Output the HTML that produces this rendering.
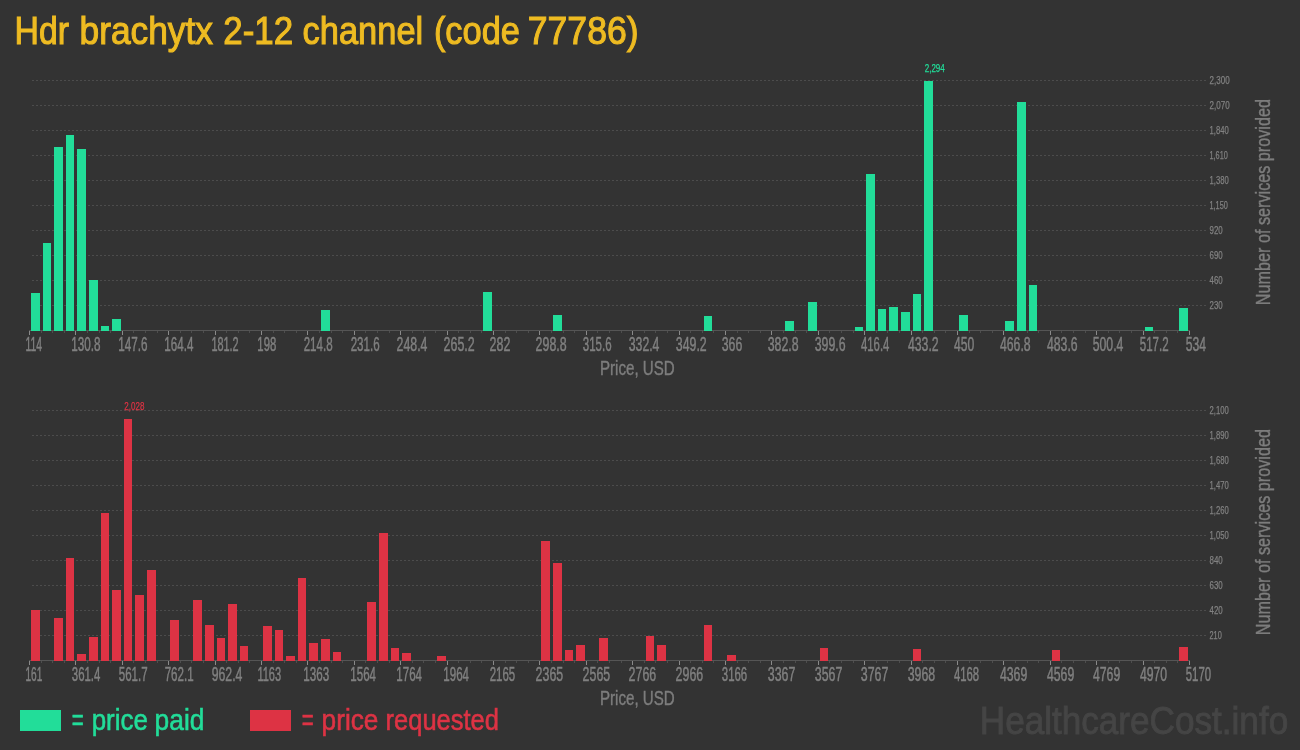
<!DOCTYPE html>
<html lang="en"><head><meta charset="utf-8"><title>Hdr brachytx 2-12 channel (code 77786)</title>
<style>
html,body{margin:0;padding:0;background:#333333;}
body{width:1300px;height:750px;overflow:hidden;}
svg{display:block;font-family:"Liberation Sans",sans-serif;}
.grid{stroke:#4c4c4c;stroke-width:1;stroke-dasharray:2 2;}
.axis{stroke:#555;stroke-width:1;}
.tick{stroke:#8a8a8a;stroke-width:1;}
.mtick{stroke:#4e4e4e;stroke-width:1;}
.xl{font-size:19.3px;fill:#808080;stroke:#808080;stroke-width:0.45px;}
.yl{font-size:11.7px;fill:#828282;stroke:#828282;stroke-width:0.25px;}
.al{font-size:19.3px;fill:#7d7d7d;stroke:#7d7d7d;stroke-width:0.4px;}
.title{font-size:39.3px;fill:#eebb22;stroke:#eebb22;stroke-width:1.1px;}
.lg{font-size:30px;stroke-width:0.6px;}
.wm{font-size:39.6px;fill:#454545;stroke:#454545;stroke-width:0.9px;}
</style></head>
<body>
<svg width="1300" height="750" viewBox="0 0 1300 750">
<rect width="1300" height="750" fill="#333333"/>
<text y="44.4" class="title"><tspan x="14.53" textLength="54.47" lengthAdjust="spacingAndGlyphs">Hdr</tspan> <tspan x="79.49" textLength="133.53" lengthAdjust="spacingAndGlyphs">brachytx</tspan> <tspan x="223.3" textLength="69.91" lengthAdjust="spacingAndGlyphs">2-12</tspan> <tspan x="302.6" textLength="120.62" lengthAdjust="spacingAndGlyphs">channel</tspan> <tspan x="433.92" textLength="86.06" lengthAdjust="spacingAndGlyphs">(code</tspan> <tspan x="527.73" textLength="110.92" lengthAdjust="spacingAndGlyphs">77786)</tspan></text>
<line x1="32" x2="1206" y1="305.5" y2="305.5" class="grid"/>
<line x1="32" x2="1206" y1="280.5" y2="280.5" class="grid"/>
<line x1="32" x2="1206" y1="255.5" y2="255.5" class="grid"/>
<line x1="32" x2="1206" y1="230.5" y2="230.5" class="grid"/>
<line x1="32" x2="1206" y1="205.5" y2="205.5" class="grid"/>
<line x1="32" x2="1206" y1="180.5" y2="180.5" class="grid"/>
<line x1="32" x2="1206" y1="155.5" y2="155.5" class="grid"/>
<line x1="32" x2="1206" y1="130.5" y2="130.5" class="grid"/>
<line x1="32" x2="1206" y1="105.5" y2="105.5" class="grid"/>
<line x1="32" x2="1206" y1="80.5" y2="80.5" class="grid"/>
<line x1="29.0" x2="1190.0" y1="330.5" y2="330.5" class="axis"/>
<line x1="29.5" x2="29.5" y1="331" y2="335" class="tick"/>
<line x1="41.5" x2="41.5" y1="331" y2="333" class="mtick"/>
<line x1="52.5" x2="52.5" y1="331" y2="333" class="mtick"/>
<line x1="64.5" x2="64.5" y1="331" y2="333" class="mtick"/>
<line x1="75.5" x2="75.5" y1="331" y2="335" class="tick"/>
<line x1="87.5" x2="87.5" y1="331" y2="333" class="mtick"/>
<line x1="99.5" x2="99.5" y1="331" y2="333" class="mtick"/>
<line x1="110.5" x2="110.5" y1="331" y2="333" class="mtick"/>
<line x1="122.5" x2="122.5" y1="331" y2="335" class="tick"/>
<line x1="133.5" x2="133.5" y1="331" y2="333" class="mtick"/>
<line x1="145.5" x2="145.5" y1="331" y2="333" class="mtick"/>
<line x1="157.5" x2="157.5" y1="331" y2="333" class="mtick"/>
<line x1="168.5" x2="168.5" y1="331" y2="335" class="tick"/>
<line x1="180.5" x2="180.5" y1="331" y2="333" class="mtick"/>
<line x1="191.5" x2="191.5" y1="331" y2="333" class="mtick"/>
<line x1="203.5" x2="203.5" y1="331" y2="333" class="mtick"/>
<line x1="215.5" x2="215.5" y1="331" y2="335" class="tick"/>
<line x1="226.5" x2="226.5" y1="331" y2="333" class="mtick"/>
<line x1="238.5" x2="238.5" y1="331" y2="333" class="mtick"/>
<line x1="249.5" x2="249.5" y1="331" y2="333" class="mtick"/>
<line x1="261.5" x2="261.5" y1="331" y2="335" class="tick"/>
<line x1="273.5" x2="273.5" y1="331" y2="333" class="mtick"/>
<line x1="284.5" x2="284.5" y1="331" y2="333" class="mtick"/>
<line x1="296.5" x2="296.5" y1="331" y2="333" class="mtick"/>
<line x1="307.5" x2="307.5" y1="331" y2="335" class="tick"/>
<line x1="319.5" x2="319.5" y1="331" y2="333" class="mtick"/>
<line x1="331.5" x2="331.5" y1="331" y2="333" class="mtick"/>
<line x1="342.5" x2="342.5" y1="331" y2="333" class="mtick"/>
<line x1="354.5" x2="354.5" y1="331" y2="335" class="tick"/>
<line x1="365.5" x2="365.5" y1="331" y2="333" class="mtick"/>
<line x1="377.5" x2="377.5" y1="331" y2="333" class="mtick"/>
<line x1="389.5" x2="389.5" y1="331" y2="333" class="mtick"/>
<line x1="400.5" x2="400.5" y1="331" y2="335" class="tick"/>
<line x1="412.5" x2="412.5" y1="331" y2="333" class="mtick"/>
<line x1="423.5" x2="423.5" y1="331" y2="333" class="mtick"/>
<line x1="435.5" x2="435.5" y1="331" y2="333" class="mtick"/>
<line x1="447.5" x2="447.5" y1="331" y2="335" class="tick"/>
<line x1="458.5" x2="458.5" y1="331" y2="333" class="mtick"/>
<line x1="470.5" x2="470.5" y1="331" y2="333" class="mtick"/>
<line x1="481.5" x2="481.5" y1="331" y2="333" class="mtick"/>
<line x1="493.5" x2="493.5" y1="331" y2="335" class="tick"/>
<line x1="505.5" x2="505.5" y1="331" y2="333" class="mtick"/>
<line x1="516.5" x2="516.5" y1="331" y2="333" class="mtick"/>
<line x1="528.5" x2="528.5" y1="331" y2="333" class="mtick"/>
<line x1="539.5" x2="539.5" y1="331" y2="335" class="tick"/>
<line x1="551.5" x2="551.5" y1="331" y2="333" class="mtick"/>
<line x1="563.5" x2="563.5" y1="331" y2="333" class="mtick"/>
<line x1="574.5" x2="574.5" y1="331" y2="333" class="mtick"/>
<line x1="586.5" x2="586.5" y1="331" y2="335" class="tick"/>
<line x1="597.5" x2="597.5" y1="331" y2="333" class="mtick"/>
<line x1="609.5" x2="609.5" y1="331" y2="333" class="mtick"/>
<line x1="621.5" x2="621.5" y1="331" y2="333" class="mtick"/>
<line x1="632.5" x2="632.5" y1="331" y2="335" class="tick"/>
<line x1="644.5" x2="644.5" y1="331" y2="333" class="mtick"/>
<line x1="655.5" x2="655.5" y1="331" y2="333" class="mtick"/>
<line x1="667.5" x2="667.5" y1="331" y2="333" class="mtick"/>
<line x1="679.5" x2="679.5" y1="331" y2="335" class="tick"/>
<line x1="690.5" x2="690.5" y1="331" y2="333" class="mtick"/>
<line x1="702.5" x2="702.5" y1="331" y2="333" class="mtick"/>
<line x1="713.5" x2="713.5" y1="331" y2="333" class="mtick"/>
<line x1="725.5" x2="725.5" y1="331" y2="335" class="tick"/>
<line x1="737.5" x2="737.5" y1="331" y2="333" class="mtick"/>
<line x1="748.5" x2="748.5" y1="331" y2="333" class="mtick"/>
<line x1="760.5" x2="760.5" y1="331" y2="333" class="mtick"/>
<line x1="771.5" x2="771.5" y1="331" y2="335" class="tick"/>
<line x1="783.5" x2="783.5" y1="331" y2="333" class="mtick"/>
<line x1="795.5" x2="795.5" y1="331" y2="333" class="mtick"/>
<line x1="806.5" x2="806.5" y1="331" y2="333" class="mtick"/>
<line x1="818.5" x2="818.5" y1="331" y2="335" class="tick"/>
<line x1="829.5" x2="829.5" y1="331" y2="333" class="mtick"/>
<line x1="841.5" x2="841.5" y1="331" y2="333" class="mtick"/>
<line x1="853.5" x2="853.5" y1="331" y2="333" class="mtick"/>
<line x1="864.5" x2="864.5" y1="331" y2="335" class="tick"/>
<line x1="876.5" x2="876.5" y1="331" y2="333" class="mtick"/>
<line x1="887.5" x2="887.5" y1="331" y2="333" class="mtick"/>
<line x1="899.5" x2="899.5" y1="331" y2="333" class="mtick"/>
<line x1="911.5" x2="911.5" y1="331" y2="335" class="tick"/>
<line x1="922.5" x2="922.5" y1="331" y2="333" class="mtick"/>
<line x1="934.5" x2="934.5" y1="331" y2="333" class="mtick"/>
<line x1="945.5" x2="945.5" y1="331" y2="333" class="mtick"/>
<line x1="957.5" x2="957.5" y1="331" y2="335" class="tick"/>
<line x1="969.5" x2="969.5" y1="331" y2="333" class="mtick"/>
<line x1="980.5" x2="980.5" y1="331" y2="333" class="mtick"/>
<line x1="992.5" x2="992.5" y1="331" y2="333" class="mtick"/>
<line x1="1003.5" x2="1003.5" y1="331" y2="335" class="tick"/>
<line x1="1015.5" x2="1015.5" y1="331" y2="333" class="mtick"/>
<line x1="1027.5" x2="1027.5" y1="331" y2="333" class="mtick"/>
<line x1="1038.5" x2="1038.5" y1="331" y2="333" class="mtick"/>
<line x1="1050.5" x2="1050.5" y1="331" y2="335" class="tick"/>
<line x1="1061.5" x2="1061.5" y1="331" y2="333" class="mtick"/>
<line x1="1073.5" x2="1073.5" y1="331" y2="333" class="mtick"/>
<line x1="1085.5" x2="1085.5" y1="331" y2="333" class="mtick"/>
<line x1="1096.5" x2="1096.5" y1="331" y2="335" class="tick"/>
<line x1="1108.5" x2="1108.5" y1="331" y2="333" class="mtick"/>
<line x1="1119.5" x2="1119.5" y1="331" y2="333" class="mtick"/>
<line x1="1131.5" x2="1131.5" y1="331" y2="333" class="mtick"/>
<line x1="1143.5" x2="1143.5" y1="331" y2="335" class="tick"/>
<line x1="1154.5" x2="1154.5" y1="331" y2="333" class="mtick"/>
<line x1="1166.5" x2="1166.5" y1="331" y2="333" class="mtick"/>
<line x1="1177.5" x2="1177.5" y1="331" y2="333" class="mtick"/>
<line x1="1189.5" x2="1189.5" y1="331" y2="335" class="tick"/>
<g fill="#22dd99" shape-rendering="crispEdges">
<rect x="31" y="293" width="9" height="38"/>
<rect x="43" y="243" width="8" height="88"/>
<rect x="54" y="147" width="9" height="184"/>
<rect x="66" y="135" width="8" height="196"/>
<rect x="77" y="149" width="9" height="182"/>
<rect x="89" y="280" width="9" height="51"/>
<rect x="101" y="326" width="8" height="5"/>
<rect x="112" y="319" width="9" height="12"/>
<rect x="321" y="310" width="9" height="21"/>
<rect x="483" y="292" width="9" height="39"/>
<rect x="553" y="315" width="9" height="16"/>
<rect x="704" y="316" width="8" height="15"/>
<rect x="785" y="321" width="9" height="10"/>
<rect x="808" y="302" width="9" height="29"/>
<rect x="855" y="327" width="8" height="4"/>
<rect x="866" y="174" width="9" height="157"/>
<rect x="878" y="309" width="8" height="22"/>
<rect x="889" y="307" width="9" height="24"/>
<rect x="901" y="312" width="9" height="19"/>
<rect x="913" y="294" width="8" height="37"/>
<rect x="924" y="81" width="9" height="250"/>
<rect x="959" y="315" width="9" height="16"/>
<rect x="1005" y="321" width="9" height="10"/>
<rect x="1017" y="102" width="9" height="229"/>
<rect x="1029" y="285" width="8" height="46"/>
<rect x="1145" y="327" width="8" height="4"/>
<rect x="1179" y="308" width="9" height="23"/>
</g>
<text x="25.43" y="351.35" class="xl" textLength="16.65" lengthAdjust="spacingAndGlyphs">114</text>
<text x="71.34" y="351.35" class="xl" textLength="29.25" lengthAdjust="spacingAndGlyphs">130.8</text>
<text x="118.34" y="351.35" class="xl" textLength="29.25" lengthAdjust="spacingAndGlyphs">147.6</text>
<text x="164.34" y="351.35" class="xl" textLength="29.08" lengthAdjust="spacingAndGlyphs">164.4</text>
<text x="211.4" y="351.35" class="xl" textLength="27.23" lengthAdjust="spacingAndGlyphs">181.2</text>
<text x="257.36" y="351.35" class="xl" textLength="18.9" lengthAdjust="spacingAndGlyphs">198</text>
<text x="303.65" y="351.35" class="xl" textLength="28.93" lengthAdjust="spacingAndGlyphs">214.8</text>
<text x="350.65" y="351.35" class="xl" textLength="28.93" lengthAdjust="spacingAndGlyphs">231.6</text>
<text x="396.61" y="351.35" class="xl" textLength="30.83" lengthAdjust="spacingAndGlyphs">248.4</text>
<text x="443.6" y="351.35" class="xl" textLength="31.1" lengthAdjust="spacingAndGlyphs">265.2</text>
<text x="489.6" y="351.35" class="xl" textLength="20.8" lengthAdjust="spacingAndGlyphs">282</text>
<text x="535.61" y="351.35" class="xl" textLength="31.01" lengthAdjust="spacingAndGlyphs">298.8</text>
<text x="582.79" y="351.35" class="xl" textLength="28.79" lengthAdjust="spacingAndGlyphs">315.6</text>
<text x="628.76" y="351.35" class="xl" textLength="30.68" lengthAdjust="spacingAndGlyphs">332.4</text>
<text x="675.76" y="351.35" class="xl" textLength="30.94" lengthAdjust="spacingAndGlyphs">349.2</text>
<text x="721.76" y="351.35" class="xl" textLength="20.55" lengthAdjust="spacingAndGlyphs">366</text>
<text x="767.76" y="351.35" class="xl" textLength="30.85" lengthAdjust="spacingAndGlyphs">382.8</text>
<text x="814.76" y="351.35" class="xl" textLength="30.85" lengthAdjust="spacingAndGlyphs">399.6</text>
<text x="860.98" y="351.35" class="xl" textLength="28.43" lengthAdjust="spacingAndGlyphs">416.4</text>
<text x="907.95" y="351.35" class="xl" textLength="30.74" lengthAdjust="spacingAndGlyphs">433.2</text>
<text x="953.96" y="351.35" class="xl" textLength="20.29" lengthAdjust="spacingAndGlyphs">450</text>
<text x="999.96" y="351.35" class="xl" textLength="30.65" lengthAdjust="spacingAndGlyphs">466.8</text>
<text x="1046.96" y="351.35" class="xl" textLength="30.65" lengthAdjust="spacingAndGlyphs">483.6</text>
<text x="1092.73" y="351.35" class="xl" textLength="30.7" lengthAdjust="spacingAndGlyphs">500.4</text>
<text x="1139.76" y="351.35" class="xl" textLength="28.89" lengthAdjust="spacingAndGlyphs">517.2</text>
<text x="1185.74" y="351.35" class="xl" textLength="20.4" lengthAdjust="spacingAndGlyphs">534</text>
<text x="1209.5" y="308.8" class="yl" textLength="13.2" lengthAdjust="spacingAndGlyphs">230</text>
<text x="1209.5" y="283.8" class="yl" textLength="13.2" lengthAdjust="spacingAndGlyphs">460</text>
<text x="1209.5" y="258.8" class="yl" textLength="13.2" lengthAdjust="spacingAndGlyphs">690</text>
<text x="1209.5" y="233.8" class="yl" textLength="13.2" lengthAdjust="spacingAndGlyphs">920</text>
<text x="1209.5" y="208.8" class="yl" textLength="18.3" lengthAdjust="spacingAndGlyphs">1,150</text>
<text x="1209.5" y="183.8" class="yl" textLength="19.2" lengthAdjust="spacingAndGlyphs">1,380</text>
<text x="1209.5" y="158.8" class="yl" textLength="18.3" lengthAdjust="spacingAndGlyphs">1,610</text>
<text x="1209.5" y="133.8" class="yl" textLength="19.2" lengthAdjust="spacingAndGlyphs">1,840</text>
<text x="1209.5" y="108.8" class="yl" textLength="20.1" lengthAdjust="spacingAndGlyphs">2,070</text>
<text x="1209.5" y="83.8" class="yl" textLength="20.1" lengthAdjust="spacingAndGlyphs">2,300</text>
<text x="924.7" y="71.8" class="yl" style="fill:#22dd99;stroke:#22dd99" textLength="20.1" lengthAdjust="spacingAndGlyphs">2,294</text>
<text x="599.96" y="374.6" class="al" textLength="74.76" lengthAdjust="spacingAndGlyphs">Price, USD</text>
<text transform="translate(1270 305.18) rotate(-90)" class="al" textLength="206.17" lengthAdjust="spacingAndGlyphs">Number of services provided</text>
<line x1="32" x2="1206" y1="635.5" y2="635.5" class="grid"/>
<line x1="32" x2="1206" y1="610.5" y2="610.5" class="grid"/>
<line x1="32" x2="1206" y1="585.5" y2="585.5" class="grid"/>
<line x1="32" x2="1206" y1="560.5" y2="560.5" class="grid"/>
<line x1="32" x2="1206" y1="535.5" y2="535.5" class="grid"/>
<line x1="32" x2="1206" y1="510.5" y2="510.5" class="grid"/>
<line x1="32" x2="1206" y1="485.5" y2="485.5" class="grid"/>
<line x1="32" x2="1206" y1="460.5" y2="460.5" class="grid"/>
<line x1="32" x2="1206" y1="435.5" y2="435.5" class="grid"/>
<line x1="32" x2="1206" y1="410.5" y2="410.5" class="grid"/>
<line x1="29.0" x2="1190.0" y1="660.5" y2="660.5" class="axis"/>
<line x1="29.5" x2="29.5" y1="661" y2="665" class="tick"/>
<line x1="41.5" x2="41.5" y1="661" y2="663" class="mtick"/>
<line x1="52.5" x2="52.5" y1="661" y2="663" class="mtick"/>
<line x1="64.5" x2="64.5" y1="661" y2="663" class="mtick"/>
<line x1="75.5" x2="75.5" y1="661" y2="665" class="tick"/>
<line x1="87.5" x2="87.5" y1="661" y2="663" class="mtick"/>
<line x1="99.5" x2="99.5" y1="661" y2="663" class="mtick"/>
<line x1="110.5" x2="110.5" y1="661" y2="663" class="mtick"/>
<line x1="122.5" x2="122.5" y1="661" y2="665" class="tick"/>
<line x1="133.5" x2="133.5" y1="661" y2="663" class="mtick"/>
<line x1="145.5" x2="145.5" y1="661" y2="663" class="mtick"/>
<line x1="157.5" x2="157.5" y1="661" y2="663" class="mtick"/>
<line x1="168.5" x2="168.5" y1="661" y2="665" class="tick"/>
<line x1="180.5" x2="180.5" y1="661" y2="663" class="mtick"/>
<line x1="191.5" x2="191.5" y1="661" y2="663" class="mtick"/>
<line x1="203.5" x2="203.5" y1="661" y2="663" class="mtick"/>
<line x1="215.5" x2="215.5" y1="661" y2="665" class="tick"/>
<line x1="226.5" x2="226.5" y1="661" y2="663" class="mtick"/>
<line x1="238.5" x2="238.5" y1="661" y2="663" class="mtick"/>
<line x1="249.5" x2="249.5" y1="661" y2="663" class="mtick"/>
<line x1="261.5" x2="261.5" y1="661" y2="665" class="tick"/>
<line x1="273.5" x2="273.5" y1="661" y2="663" class="mtick"/>
<line x1="284.5" x2="284.5" y1="661" y2="663" class="mtick"/>
<line x1="296.5" x2="296.5" y1="661" y2="663" class="mtick"/>
<line x1="307.5" x2="307.5" y1="661" y2="665" class="tick"/>
<line x1="319.5" x2="319.5" y1="661" y2="663" class="mtick"/>
<line x1="331.5" x2="331.5" y1="661" y2="663" class="mtick"/>
<line x1="342.5" x2="342.5" y1="661" y2="663" class="mtick"/>
<line x1="354.5" x2="354.5" y1="661" y2="665" class="tick"/>
<line x1="365.5" x2="365.5" y1="661" y2="663" class="mtick"/>
<line x1="377.5" x2="377.5" y1="661" y2="663" class="mtick"/>
<line x1="389.5" x2="389.5" y1="661" y2="663" class="mtick"/>
<line x1="400.5" x2="400.5" y1="661" y2="665" class="tick"/>
<line x1="412.5" x2="412.5" y1="661" y2="663" class="mtick"/>
<line x1="423.5" x2="423.5" y1="661" y2="663" class="mtick"/>
<line x1="435.5" x2="435.5" y1="661" y2="663" class="mtick"/>
<line x1="447.5" x2="447.5" y1="661" y2="665" class="tick"/>
<line x1="458.5" x2="458.5" y1="661" y2="663" class="mtick"/>
<line x1="470.5" x2="470.5" y1="661" y2="663" class="mtick"/>
<line x1="481.5" x2="481.5" y1="661" y2="663" class="mtick"/>
<line x1="493.5" x2="493.5" y1="661" y2="665" class="tick"/>
<line x1="505.5" x2="505.5" y1="661" y2="663" class="mtick"/>
<line x1="516.5" x2="516.5" y1="661" y2="663" class="mtick"/>
<line x1="528.5" x2="528.5" y1="661" y2="663" class="mtick"/>
<line x1="539.5" x2="539.5" y1="661" y2="665" class="tick"/>
<line x1="551.5" x2="551.5" y1="661" y2="663" class="mtick"/>
<line x1="563.5" x2="563.5" y1="661" y2="663" class="mtick"/>
<line x1="574.5" x2="574.5" y1="661" y2="663" class="mtick"/>
<line x1="586.5" x2="586.5" y1="661" y2="665" class="tick"/>
<line x1="597.5" x2="597.5" y1="661" y2="663" class="mtick"/>
<line x1="609.5" x2="609.5" y1="661" y2="663" class="mtick"/>
<line x1="621.5" x2="621.5" y1="661" y2="663" class="mtick"/>
<line x1="632.5" x2="632.5" y1="661" y2="665" class="tick"/>
<line x1="644.5" x2="644.5" y1="661" y2="663" class="mtick"/>
<line x1="655.5" x2="655.5" y1="661" y2="663" class="mtick"/>
<line x1="667.5" x2="667.5" y1="661" y2="663" class="mtick"/>
<line x1="679.5" x2="679.5" y1="661" y2="665" class="tick"/>
<line x1="690.5" x2="690.5" y1="661" y2="663" class="mtick"/>
<line x1="702.5" x2="702.5" y1="661" y2="663" class="mtick"/>
<line x1="713.5" x2="713.5" y1="661" y2="663" class="mtick"/>
<line x1="725.5" x2="725.5" y1="661" y2="665" class="tick"/>
<line x1="737.5" x2="737.5" y1="661" y2="663" class="mtick"/>
<line x1="748.5" x2="748.5" y1="661" y2="663" class="mtick"/>
<line x1="760.5" x2="760.5" y1="661" y2="663" class="mtick"/>
<line x1="771.5" x2="771.5" y1="661" y2="665" class="tick"/>
<line x1="783.5" x2="783.5" y1="661" y2="663" class="mtick"/>
<line x1="795.5" x2="795.5" y1="661" y2="663" class="mtick"/>
<line x1="806.5" x2="806.5" y1="661" y2="663" class="mtick"/>
<line x1="818.5" x2="818.5" y1="661" y2="665" class="tick"/>
<line x1="829.5" x2="829.5" y1="661" y2="663" class="mtick"/>
<line x1="841.5" x2="841.5" y1="661" y2="663" class="mtick"/>
<line x1="853.5" x2="853.5" y1="661" y2="663" class="mtick"/>
<line x1="864.5" x2="864.5" y1="661" y2="665" class="tick"/>
<line x1="876.5" x2="876.5" y1="661" y2="663" class="mtick"/>
<line x1="887.5" x2="887.5" y1="661" y2="663" class="mtick"/>
<line x1="899.5" x2="899.5" y1="661" y2="663" class="mtick"/>
<line x1="911.5" x2="911.5" y1="661" y2="665" class="tick"/>
<line x1="922.5" x2="922.5" y1="661" y2="663" class="mtick"/>
<line x1="934.5" x2="934.5" y1="661" y2="663" class="mtick"/>
<line x1="945.5" x2="945.5" y1="661" y2="663" class="mtick"/>
<line x1="957.5" x2="957.5" y1="661" y2="665" class="tick"/>
<line x1="969.5" x2="969.5" y1="661" y2="663" class="mtick"/>
<line x1="980.5" x2="980.5" y1="661" y2="663" class="mtick"/>
<line x1="992.5" x2="992.5" y1="661" y2="663" class="mtick"/>
<line x1="1003.5" x2="1003.5" y1="661" y2="665" class="tick"/>
<line x1="1015.5" x2="1015.5" y1="661" y2="663" class="mtick"/>
<line x1="1027.5" x2="1027.5" y1="661" y2="663" class="mtick"/>
<line x1="1038.5" x2="1038.5" y1="661" y2="663" class="mtick"/>
<line x1="1050.5" x2="1050.5" y1="661" y2="665" class="tick"/>
<line x1="1061.5" x2="1061.5" y1="661" y2="663" class="mtick"/>
<line x1="1073.5" x2="1073.5" y1="661" y2="663" class="mtick"/>
<line x1="1085.5" x2="1085.5" y1="661" y2="663" class="mtick"/>
<line x1="1096.5" x2="1096.5" y1="661" y2="665" class="tick"/>
<line x1="1108.5" x2="1108.5" y1="661" y2="663" class="mtick"/>
<line x1="1119.5" x2="1119.5" y1="661" y2="663" class="mtick"/>
<line x1="1131.5" x2="1131.5" y1="661" y2="663" class="mtick"/>
<line x1="1143.5" x2="1143.5" y1="661" y2="665" class="tick"/>
<line x1="1154.5" x2="1154.5" y1="661" y2="663" class="mtick"/>
<line x1="1166.5" x2="1166.5" y1="661" y2="663" class="mtick"/>
<line x1="1177.5" x2="1177.5" y1="661" y2="663" class="mtick"/>
<line x1="1189.5" x2="1189.5" y1="661" y2="665" class="tick"/>
<g fill="#dd3344" shape-rendering="crispEdges">
<rect x="31" y="610" width="9" height="51"/>
<rect x="54" y="618" width="9" height="43"/>
<rect x="66" y="558" width="8" height="103"/>
<rect x="77" y="654" width="9" height="7"/>
<rect x="89" y="637" width="9" height="24"/>
<rect x="101" y="513" width="8" height="148"/>
<rect x="112" y="590" width="9" height="71"/>
<rect x="124" y="419" width="8" height="242"/>
<rect x="135" y="595" width="9" height="66"/>
<rect x="147" y="570" width="9" height="91"/>
<rect x="170" y="620" width="9" height="41"/>
<rect x="193" y="600" width="9" height="61"/>
<rect x="205" y="625" width="9" height="36"/>
<rect x="217" y="638" width="8" height="23"/>
<rect x="228" y="604" width="9" height="57"/>
<rect x="240" y="646" width="8" height="15"/>
<rect x="263" y="626" width="9" height="35"/>
<rect x="275" y="630" width="8" height="31"/>
<rect x="286" y="656" width="9" height="5"/>
<rect x="298" y="578" width="8" height="83"/>
<rect x="309" y="643" width="9" height="18"/>
<rect x="321" y="639" width="9" height="22"/>
<rect x="333" y="652" width="8" height="9"/>
<rect x="367" y="602" width="9" height="59"/>
<rect x="379" y="533" width="9" height="128"/>
<rect x="391" y="648" width="8" height="13"/>
<rect x="402" y="653" width="9" height="8"/>
<rect x="437" y="656" width="9" height="5"/>
<rect x="541" y="541" width="9" height="120"/>
<rect x="553" y="563" width="9" height="98"/>
<rect x="565" y="650" width="8" height="11"/>
<rect x="576" y="645" width="9" height="16"/>
<rect x="599" y="638" width="9" height="23"/>
<rect x="646" y="636" width="8" height="25"/>
<rect x="657" y="645" width="9" height="16"/>
<rect x="704" y="625" width="8" height="36"/>
<rect x="727" y="655" width="9" height="6"/>
<rect x="820" y="648" width="8" height="13"/>
<rect x="913" y="649" width="8" height="12"/>
<rect x="1052" y="650" width="8" height="11"/>
<rect x="1179" y="647" width="9" height="14"/>
</g>
<text x="25.46" y="681.35" class="xl" textLength="16.8" lengthAdjust="spacingAndGlyphs">161</text>
<text x="71.79" y="681.35" class="xl" textLength="28.62" lengthAdjust="spacingAndGlyphs">361.4</text>
<text x="118.76" y="681.35" class="xl" textLength="28.89" lengthAdjust="spacingAndGlyphs">561.7</text>
<text x="164.63" y="681.35" class="xl" textLength="29.0" lengthAdjust="spacingAndGlyphs">762.1</text>
<text x="211.66" y="681.35" class="xl" textLength="30.78" lengthAdjust="spacingAndGlyphs">962.4</text>
<text x="257.38" y="681.35" class="xl" textLength="23.77" lengthAdjust="spacingAndGlyphs">1163</text>
<text x="303.34" y="681.35" class="xl" textLength="25.84" lengthAdjust="spacingAndGlyphs">1363</text>
<text x="350.35" y="681.35" class="xl" textLength="25.67" lengthAdjust="spacingAndGlyphs">1564</text>
<text x="396.35" y="681.35" class="xl" textLength="25.67" lengthAdjust="spacingAndGlyphs">1764</text>
<text x="443.35" y="681.35" class="xl" textLength="25.67" lengthAdjust="spacingAndGlyphs">1964</text>
<text x="489.65" y="681.35" class="xl" textLength="25.5" lengthAdjust="spacingAndGlyphs">2165</text>
<text x="535.6" y="681.35" class="xl" textLength="27.59" lengthAdjust="spacingAndGlyphs">2365</text>
<text x="582.6" y="681.35" class="xl" textLength="27.59" lengthAdjust="spacingAndGlyphs">2565</text>
<text x="628.6" y="681.35" class="xl" textLength="27.61" lengthAdjust="spacingAndGlyphs">2766</text>
<text x="675.6" y="681.35" class="xl" textLength="27.61" lengthAdjust="spacingAndGlyphs">2966</text>
<text x="721.79" y="681.35" class="xl" textLength="25.38" lengthAdjust="spacingAndGlyphs">3166</text>
<text x="767.75" y="681.35" class="xl" textLength="27.55" lengthAdjust="spacingAndGlyphs">3367</text>
<text x="814.75" y="681.35" class="xl" textLength="27.55" lengthAdjust="spacingAndGlyphs">3567</text>
<text x="860.75" y="681.35" class="xl" textLength="27.55" lengthAdjust="spacingAndGlyphs">3767</text>
<text x="907.76" y="681.35" class="xl" textLength="27.46" lengthAdjust="spacingAndGlyphs">3968</text>
<text x="953.98" y="681.35" class="xl" textLength="25.19" lengthAdjust="spacingAndGlyphs">4168</text>
<text x="999.95" y="681.35" class="xl" textLength="27.3" lengthAdjust="spacingAndGlyphs">4369</text>
<text x="1046.95" y="681.35" class="xl" textLength="27.3" lengthAdjust="spacingAndGlyphs">4569</text>
<text x="1092.95" y="681.35" class="xl" textLength="27.3" lengthAdjust="spacingAndGlyphs">4769</text>
<text x="1139.96" y="681.35" class="xl" textLength="27.19" lengthAdjust="spacingAndGlyphs">4970</text>
<text x="1185.77" y="681.35" class="xl" textLength="25.35" lengthAdjust="spacingAndGlyphs">5170</text>
<text x="1209.5" y="638.8" class="yl" textLength="12.3" lengthAdjust="spacingAndGlyphs">210</text>
<text x="1209.5" y="613.8" class="yl" textLength="13.2" lengthAdjust="spacingAndGlyphs">420</text>
<text x="1209.5" y="588.8" class="yl" textLength="13.2" lengthAdjust="spacingAndGlyphs">630</text>
<text x="1209.5" y="563.8" class="yl" textLength="13.2" lengthAdjust="spacingAndGlyphs">840</text>
<text x="1209.5" y="538.8" class="yl" textLength="19.2" lengthAdjust="spacingAndGlyphs">1,050</text>
<text x="1209.5" y="513.8" class="yl" textLength="19.2" lengthAdjust="spacingAndGlyphs">1,260</text>
<text x="1209.5" y="488.8" class="yl" textLength="19.2" lengthAdjust="spacingAndGlyphs">1,470</text>
<text x="1209.5" y="463.8" class="yl" textLength="19.2" lengthAdjust="spacingAndGlyphs">1,680</text>
<text x="1209.5" y="438.8" class="yl" textLength="19.2" lengthAdjust="spacingAndGlyphs">1,890</text>
<text x="1209.5" y="413.8" class="yl" textLength="19.2" lengthAdjust="spacingAndGlyphs">2,100</text>
<text x="124.3" y="410.0" class="yl" style="fill:#dd3344;stroke:#dd3344" textLength="20.1" lengthAdjust="spacingAndGlyphs">2,028</text>
<text x="599.96" y="704.6" class="al" textLength="74.76" lengthAdjust="spacingAndGlyphs">Price, USD</text>
<text transform="translate(1270 635.18) rotate(-90)" class="al" textLength="206.17" lengthAdjust="spacingAndGlyphs">Number of services provided</text>
<rect x="20" y="710" width="41" height="21" fill="#22dd99"/>
<text y="729.5" class="lg" fill="#22dd99" stroke="#22dd99"><tspan x="71.71" textLength="11.99" lengthAdjust="spacingAndGlyphs">=</tspan> <tspan x="91.64" textLength="56.21" lengthAdjust="spacingAndGlyphs">price</tspan> <tspan x="154.61" textLength="49.79" lengthAdjust="spacingAndGlyphs">paid</tspan></text>
<rect x="250" y="710" width="41" height="21" fill="#dd3344"/>
<text y="729.5" class="lg" fill="#dd3344" stroke="#dd3344"><tspan x="301.71" textLength="11.99" lengthAdjust="spacingAndGlyphs">=</tspan> <tspan x="321.62" textLength="56.85" lengthAdjust="spacingAndGlyphs">price</tspan> <tspan x="385.62" textLength="113.31" lengthAdjust="spacingAndGlyphs">requested</tspan></text>
<text x="979.77" y="734.3" class="wm" textLength="308.43" lengthAdjust="spacingAndGlyphs">HealthcareCost.info</text>
</svg>
</body></html>
